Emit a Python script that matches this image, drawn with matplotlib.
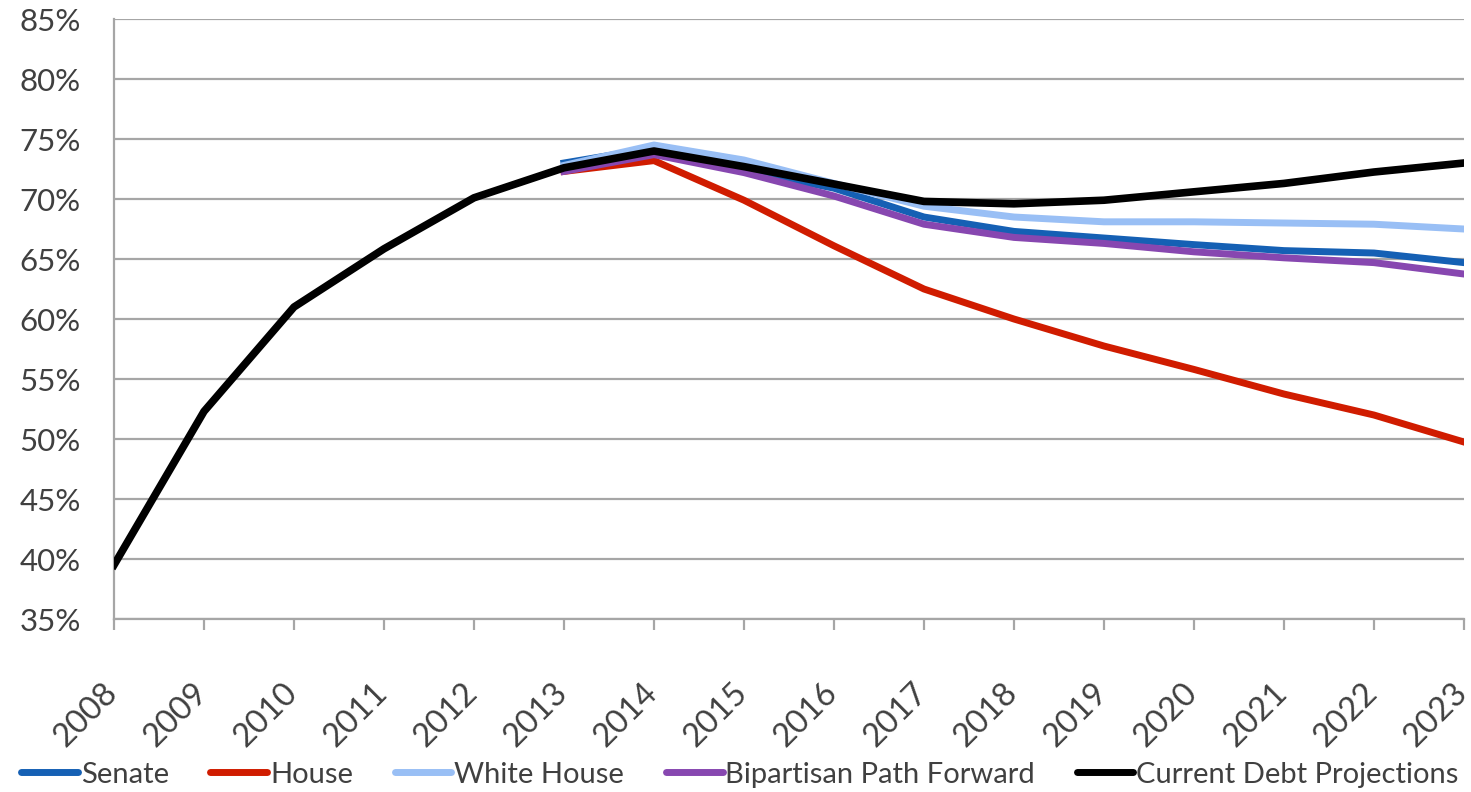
import matplotlib
matplotlib.use("Agg")
import matplotlib.pyplot as plt
from matplotlib.ticker import MultipleLocator, FuncFormatter
from matplotlib.lines import Line2D
from matplotlib.transforms import ScaledTranslation

plt.rcParams['font.family'] = ['Lato', 'DejaVu Sans']

years = list(range(2008, 2024))
proj_years = list(range(2013, 2024))

senate = [73.0, 74.25, 72.4, 70.9, 68.5, 67.3, 66.75, 66.2, 65.7, 65.5, 64.7]
house = [72.3, 73.2, 69.9, 66.1, 62.5, 60.0, 57.75, 55.8, 53.75, 52.0, 49.75]
white_house = [72.8, 74.5, 73.25, 71.3, 69.4, 68.5, 68.1, 68.1, 68.0, 67.9, 67.5]
bipartisan = [72.3, 73.7, 72.2, 70.25, 67.9, 66.8, 66.3, 65.6, 65.1, 64.7, 63.75]
current_debt = [39.5, 52.3, 61.0, 65.85, 70.1, 72.6, 74.0, 72.7, 71.25, 69.8,
                69.6, 69.9, 70.6, 71.3, 72.25, 73.0]

series_names = ["Senate", "House", "White House", "Bipartisan Path Forward",
                "Current Debt Projections"]
series_colors = ["#1560B4", "#D01C00", "#99BFF5", "#8747B0", "#000000"]

text_color = "#404040"
grid_color = "#A6A6A6"

fig = plt.figure(figsize=(14.71, 7.92), dpi=100)
ax = fig.add_axes([0.0775, 0.2184, 0.9177, 0.7576])

ax.plot(proj_years, senate, color=series_colors[0], lw=5.0, zorder=3)
ax.plot(proj_years, house, color=series_colors[1], lw=5.0, zorder=3)
ax.plot(proj_years, white_house, color=series_colors[2], lw=5.0, zorder=3)
ax.plot(proj_years, bipartisan, color=series_colors[3], lw=5.0, zorder=3)
ax.plot(years, current_debt, color=series_colors[4], lw=5.5, zorder=4)

ax.set_xlim(2008, 2023)
ax.set_ylim(35, 85)
ax.yaxis.set_major_locator(MultipleLocator(5))
ax.yaxis.set_major_formatter(FuncFormatter(lambda v, p: f"{v:.0f}%"))
ax.set_xticks(years)

ax.grid(axis="y", color=grid_color, lw=1.6, zorder=0)
ax.set_axisbelow(True)
for side in ("top", "right"):
    ax.spines[side].set_visible(False)
for side in ("left", "bottom"):
    ax.spines[side].set_color(grid_color)
    ax.spines[side].set_linewidth(1.6)

ax.tick_params(axis="y", length=0, pad=24, labelsize=22.5, labelcolor=text_color)
ax.tick_params(axis="x", length=8, width=1.6, color=grid_color, direction="out",
               pad=6, labelsize=23.5, labelcolor=text_color)
ax.set_xticklabels([str(y) for y in years], rotation=45, ha="right",
                   rotation_mode="anchor")

# nudge the slanted year labels so each one hangs centred under its tick
shift = ScaledTranslation(-0.12, -0.39, fig.dpi_scale_trans)
for lbl in ax.get_xticklabels():
    lbl.set_transform(lbl.get_transform() + shift)

handles = [Line2D([0], [0], color=c, lw=5.0, solid_capstyle="round")
           for c in series_colors]
fig.legend(handles, series_names, loc="center", bbox_to_anchor=(0.503, 0.022),
           ncol=5, frameon=False, fontsize=21, labelcolor=text_color,
           handlelength=1.95, handletextpad=0.1, columnspacing=1.42,
           borderaxespad=0, borderpad=0)

fig.savefig("out.png", dpi=100)
